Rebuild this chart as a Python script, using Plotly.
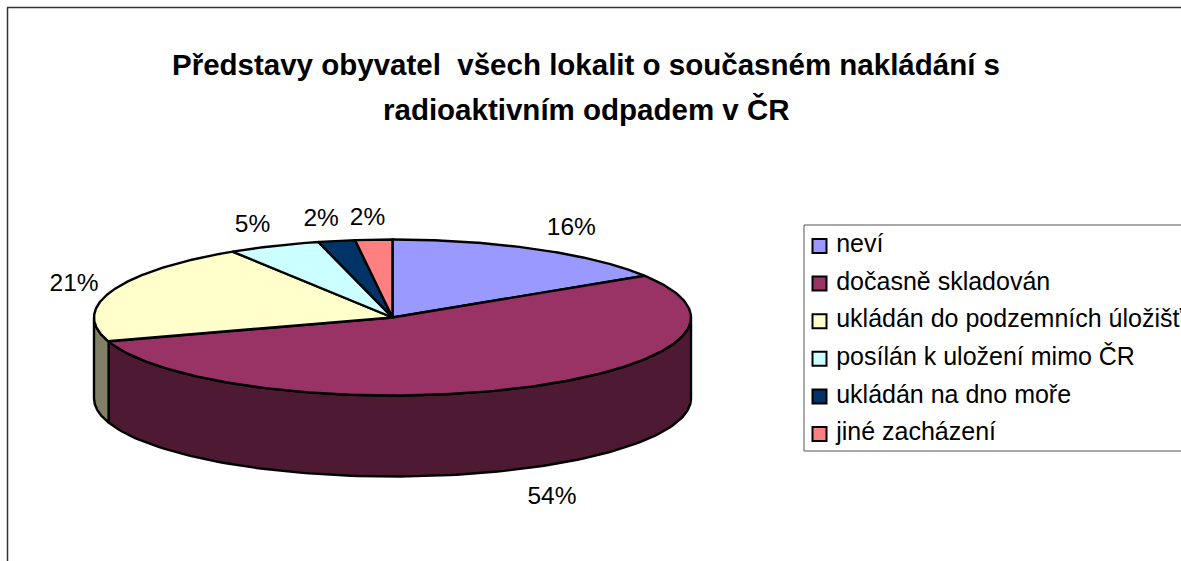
import numpy as np
import plotly.graph_objects as go

TITLE_1 = "Představy obyvatel  všech lokalit o současném nakládání s"
TITLE_2 = "radioaktivním odpadem v ČR"
categories = ["neví", "dočasně skladován", "ukládán do podzemních úložišť",
              "posílán k uložení mimo ČR", "ukládán na dno moře", "jiné zacházení"]
values = [16, 54, 21, 5, 2, 2]
colors = ["#9999FF", "#993366", "#FFFFCC", "#CCFFFF", "#003366", "#FF8080"]
side_colors = ["#4D4D80", "#4D1933", "#808066", "#668080", "#001933", "#804040"]

FONT = "Liberation Sans, Arial, sans-serif"
CX, CY, RX, RY, DEPTH = 392.5, 317.5, 298.5, 78, 81
LABEL_RX, LABEL_RY = 365, 105
LABEL_NUDGE_X = [3, 4, 25, 5, -3, -2]
LABEL_NUDGE_Y = [3, 4, 3, 5, 6, 6]
LEG_X, LEG_Y0, LEG_DY = 819.5, 246, 37.6
LW = 2.4


def pt(deg, dy=0):
    a = np.radians(deg)
    return CX + RX * np.sin(a), CY - RY * np.cos(a) + dy


fig = go.Figure()
edges = np.cumsum([0] + values) / sum(values) * 360

# side walls (only the front half of the cylinder is visible)
for i in range(len(values)):
    a0, a1 = max(edges[i], 90), min(edges[i + 1], 270)
    if a1 <= a0:
        continue
    t = np.linspace(a0, a1, 120)
    xt, yt = pt(t)
    xb, yb = pt(t[::-1], DEPTH)
    fig.add_trace(go.Scatter(x=np.r_[xt, xb, xt[0]], y=np.r_[yt, yb, yt[0]], mode="lines", fill="toself",
                             fillcolor=side_colors[i], line=dict(color="black", width=LW),
                             hoverinfo="skip", showlegend=False))

# top faces
for i in range(len(values)):
    t = np.linspace(edges[i], edges[i + 1], 200)
    xt, yt = pt(t)
    fig.add_trace(go.Scatter(x=np.r_[CX, xt, CX], y=np.r_[CY, yt, CY], mode="lines", fill="toself",
                             fillcolor=colors[i], line=dict(color="black", width=LW),
                             name=categories[i], showlegend=False))

# percentage labels
mids = (edges[:-1] + edges[1:]) / 2
lx, ly = [], []
for i, m in enumerate(mids):
    a = np.radians(m)
    c = np.cos(a)
    lx.append(CX + LABEL_RX * np.sin(a) + LABEL_NUDGE_X[i])
    ly.append(CY - LABEL_RY * c + (DEPTH if c < 0 else 0) + LABEL_NUDGE_Y[i])
fig.add_trace(go.Scatter(x=lx, y=ly, mode="text", text=[f"{v}%" for v in values],
                         textposition="middle center", textfont=dict(family=FONT, size=24.5, color="black"),
                         hoverinfo="skip", showlegend=False))

# legend
for i, c in enumerate(categories):
    fig.add_trace(go.Scatter(x=[LEG_X], y=[LEG_Y0 + i * LEG_DY], mode="markers+text", text=[" " + c],
                             textposition="middle right", textfont=dict(family=FONT, size=25, color="black"),
                             marker=dict(symbol="square", size=14, color=colors[i], line=dict(color="black", width=2)),
                             hoverinfo="skip", showlegend=False))

fig.update_layout(
    width=1181, height=561, margin=dict(l=0, r=0, t=0, b=0),
    paper_bgcolor="white", plot_bgcolor="white", showlegend=False,
    xaxis=dict(range=[0, 1181], visible=False, fixedrange=True),
    yaxis=dict(range=[561, 0], visible=False, fixedrange=True),
    title=dict(text="<b>" + TITLE_1 + "</b>", x=586 / 1181, xanchor="center", y=1 - 65 / 561, yanchor="middle",
               font=dict(family=FONT, size=29.5, color="black")),
    annotations=[dict(text="<b>" + TITLE_2 + "</b>", x=586, y=109.5, xref="x", yref="y", showarrow=False,
                      font=dict(family=FONT, size=29.5, color="black"))],
    shapes=[
        dict(type="line", x0=7.5, x1=7.5, y0=7.5, y1=561, line=dict(color="#333333", width=1.5)),
        dict(type="line", x0=7, x1=1181, y0=7.5, y1=7.5, line=dict(color="#333333", width=1.5)),
        dict(type="rect", x0=804, x1=1190, y0=225, y1=451, line=dict(color="#555555", width=1)),
    ],
)
fig.write_html("out.html", config=dict(displayModeBar=False), default_width=1181, default_height=561,
               post_script="document.body.style.margin='0';document.body.style.overflow='hidden';")
